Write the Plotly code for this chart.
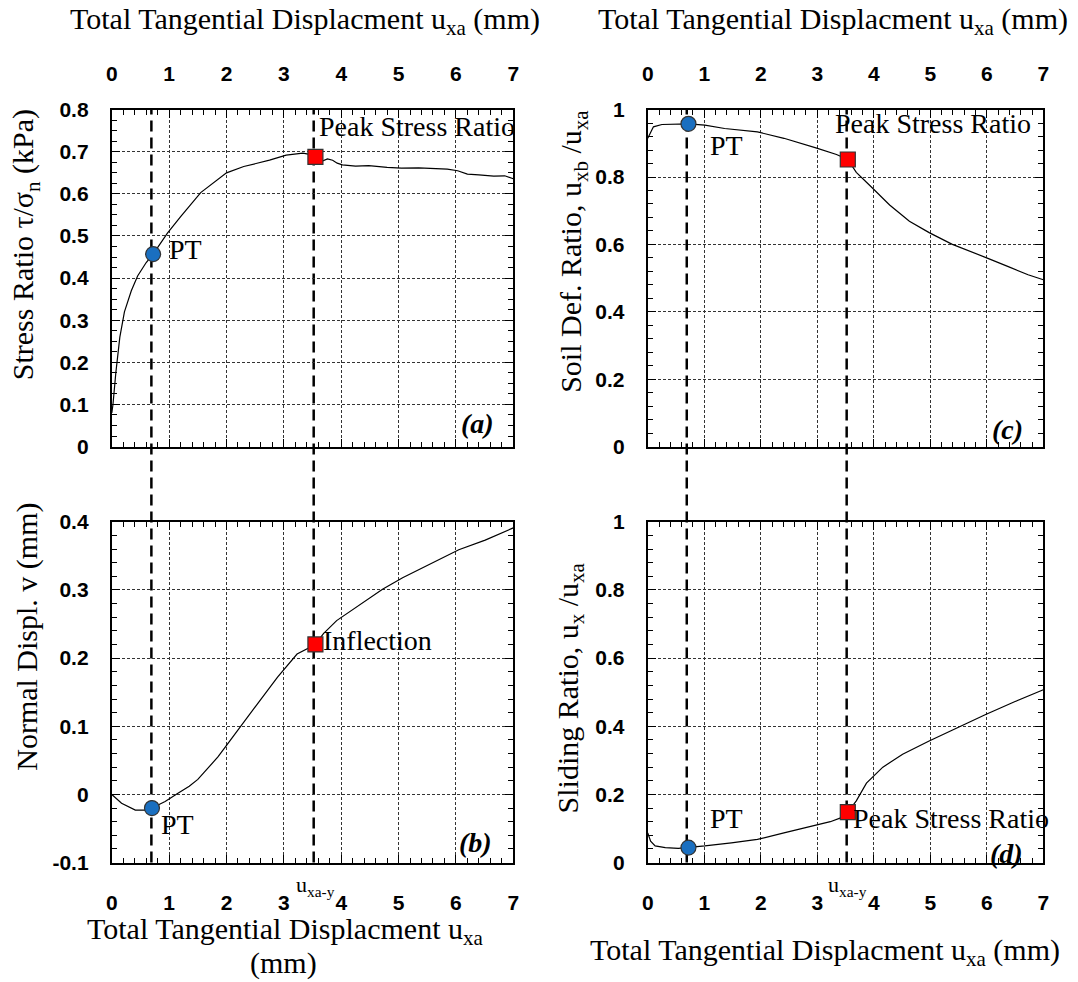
import plotly.graph_objects as go

# ---------------- data ----------------
# (a) stress ratio tau/sigma_n vs total tangential displacement
ux_a = [0.0, 0.02, 0.07, 0.14, 0.22, 0.34, 0.45, 0.60, 0.72, 0.97, 1.20, 1.55, 2.00, 2.30,
        2.75, 3.04, 3.33, 3.45, 3.55, 3.62, 3.67, 3.76, 3.85, 3.93, 4.02, 4.25, 4.48, 4.80,
        5.05, 5.35, 5.63, 5.85, 6.03, 6.20, 6.40, 6.66, 6.85, 7.0]
stress_ratio = [0.08, 0.10, 0.175, 0.26, 0.32, 0.37, 0.405, 0.437, 0.457, 0.507, 0.546, 0.603,
                0.650, 0.665, 0.680, 0.692, 0.697, 0.694, 0.688, 0.681, 0.678, 0.683, 0.680,
                0.673, 0.669, 0.666, 0.667, 0.663, 0.661, 0.662, 0.661, 0.659, 0.655, 0.647,
                0.645, 0.642, 0.643, 0.636]

# (b) normal displacement v
ux_b = [0.0, 0.17, 0.41, 0.59, 0.70, 0.93, 1.16, 1.35, 1.50, 1.70, 1.85, 2.00, 2.20, 2.54,
        2.89, 3.23, 3.55, 3.69, 3.92, 4.26, 4.72, 5.07, 5.64, 6.05, 6.51, 7.0]
normal_displ = [0.0, -0.013, -0.023, -0.023, -0.020, -0.0105, 0.002, 0.012, 0.022, 0.040,
                0.055, 0.072, 0.094, 0.133, 0.172, 0.206, 0.220, 0.236, 0.255, 0.275, 0.301,
                0.318, 0.342, 0.359, 0.373, 0.391]

# (c) soil deformation ratio u_xb/u_xa
ux_c = [0.0, 0.05, 0.10, 0.25, 0.48, 0.72, 1.01, 1.36, 1.94, 2.41, 2.99, 3.34, 3.54, 3.69,
        3.93, 4.28, 4.63, 4.98, 5.38, 5.68, 6.03, 6.38, 6.73, 7.0]
soil_def_ratio = [0.915, 0.934, 0.949, 0.956, 0.957, 0.958, 0.954, 0.944, 0.934, 0.915, 0.886,
                  0.867, 0.852, 0.814, 0.775, 0.717, 0.669, 0.635, 0.601, 0.582, 0.558, 0.534,
                  0.510, 0.495]

# (d) sliding ratio u_x/u_xa
ux_d = [0.0, 0.05, 0.13, 0.31, 0.54, 0.72, 1.01, 1.48, 1.94, 2.41, 2.88, 3.23, 3.46, 3.54,
        3.69, 3.87, 4.16, 4.51, 4.97, 5.50, 5.97, 6.49, 7.0]
sliding_ratio = [0.087, 0.063, 0.049, 0.044, 0.042, 0.044, 0.049, 0.058, 0.068, 0.087, 0.106,
                 0.120, 0.134, 0.148, 0.181, 0.233, 0.280, 0.318, 0.356, 0.398, 0.434, 0.472,
                 0.507]

# characteristic points (x, y)
pt_a, peak_a = (0.72, 0.457), (3.55, 0.688)
pt_b, infl_b = (0.70, -0.020), (3.55, 0.220)
pt_c, peak_c = (0.72, 0.958), (3.54, 0.852)
pt_d, peak_d = (0.72, 0.044), (3.54, 0.148)
x_pt_line, x_peak_line = 0.69, 3.52

x_ticks = [0, 1, 2, 3, 4, 5, 6, 7]

# ---------------- styling ----------------
SERIF = "Liberation Serif, Times New Roman, serif"
SANS = "Liberation Sans, Arial, sans-serif"
TICKFONT = dict(family=SANS, size=21, color="black", weight="bold")
W, H = 1078, 982

dom_x_left = [107 / W, 513 / W]
dom_x_right = [649 / W, 1049 / W]
dom_y_top = [1 - 445 / H, 1 - 100 / H]
dom_y_bot = [1 - 871 / H, 1 - 522 / H]

fig = go.Figure()

def curve(x, y, xa, ya):
    fig.add_trace(go.Scatter(x=x, y=y, mode="lines", xaxis=xa, yaxis=ya,
                             line=dict(color="black", width=1.2), showlegend=False,
                             hoverinfo="skip"))

def point(p, symbol, color, xa, ya):
    fig.add_trace(go.Scatter(x=[p[0]], y=[p[1]], mode="markers", xaxis=xa, yaxis=ya,
                             marker=dict(symbol=symbol, size=15, color=color,
                                         line=dict(color="#333333", width=1.2)),
                             showlegend=False, cliponaxis=False))

curve(ux_a, stress_ratio, "x", "y")
curve(ux_b, normal_displ, "x3", "y3")
curve(ux_c, soil_def_ratio, "x2", "y2")
curve(ux_d, sliding_ratio, "x4", "y4")

point(pt_a, "circle", "#1a6fc0", "x", "y")
point(peak_a, "square", "#ff0000", "x", "y")
point(pt_b, "circle", "#1a6fc0", "x3", "y3")
point(infl_b, "square", "#ff0000", "x3", "y3")
point(pt_c, "circle", "#1a6fc0", "x2", "y2")
point(peak_c, "square", "#ff0000", "x2", "y2")
point(pt_d, "circle", "#1a6fc0", "x4", "y4")
point(peak_d, "square", "#ff0000", "x4", "y4")

def xaxis(domain, anchor, side, standoff):
    return dict(domain=domain, anchor=anchor, range=[0, 7], side=side,
                tickvals=x_ticks, tickfont=TICKFONT,
                showline=True, linecolor="black", linewidth=2, mirror="allticks",
                ticks="inside", ticklen=8, tickwidth=1.2, tickcolor="black",
                showgrid=True, gridcolor="#333333", gridwidth=1, griddash="3px,2px",
                minor=dict(dtick=0.2, ticks="inside", ticklen=5, tickwidth=1,
                           tickcolor="black", showgrid=False),
                zeroline=False, ticklabelstandoff=standoff)

def yaxis(domain, anchor, rng, dtick, minor, tickvals=None, ticktext=None):
    d = dict(domain=domain, anchor=anchor, range=rng, dtick=dtick, tick0=0,
             tickfont=TICKFONT,
             showline=True, linecolor="black", linewidth=2, mirror="allticks",
             ticks="inside", ticklen=8, tickwidth=1.2, tickcolor="black",
             showgrid=True, gridcolor="#333333", gridwidth=1, griddash="3px,2px",
             minor=dict(dtick=minor, tick0=0, ticks="inside", ticklen=5, tickwidth=1,
                        tickcolor="black", showgrid=False),
             zeroline=False, ticklabelstandoff=17)
    if tickvals is not None:
        d.update(tickmode="array", tickvals=tickvals, ticktext=ticktext)
    return d

fig.update_layout(
    width=W, height=H,
    margin=dict(l=0, r=0, t=0, b=0),
    paper_bgcolor="white", plot_bgcolor="rgba(0,0,0,0)",
    showlegend=False,
    xaxis=xaxis(dom_x_left, "y", "top", 18),
    yaxis=yaxis(dom_y_top, "x", [0, 0.8], 0.1, 0.025),
    xaxis2=xaxis(dom_x_right, "y2", "top", 18),
    yaxis2=yaxis(dom_y_top, "x2", [0, 1], 0.2, 0.04),
    xaxis3=xaxis(dom_x_left, "y3", "bottom", 20),
    yaxis3=yaxis(dom_y_bot, "x3", [-0.1, 0.4], 0.1, 0.02,
                 tickvals=[-0.1, 0, 0.1, 0.2, 0.3, 0.4],
                 ticktext=["-0.1", "0", "0.1", "0.2", "0.3", "0.4"]),
    xaxis4=xaxis(dom_x_right, "y4", "bottom", 20),
    yaxis4=yaxis(dom_y_bot, "x4", [0, 1], 0.2, 0.04),
)

# vertical dashed guide lines running through both rows
for xref, xv in [("x", x_pt_line), ("x", x_peak_line),
                 ("x2", x_pt_line), ("x2", x_peak_line)]:
    fig.add_shape(type="line", xref=xref, yref="paper", x0=xv, x1=xv,
                  y0=dom_y_bot[0], y1=dom_y_top[1], layer="below",
                  line=dict(color="black", width=2.5, dash="11px,6px"))

LBL = dict(family=SERIF, size=28, color="black")
TAG = dict(family=SERIF, size=28, color="black")

def note(text, x, y, xref, yref, xanchor="left", yanchor="middle", font=LBL, angle=0):
    fig.add_annotation(text=text, x=x, y=y, xref=xref, yref=yref, xanchor=xanchor,
                       yanchor=yanchor, showarrow=False, font=font, textangle=angle)

# point labels
note("PT", 0.97, 0.469, "x", "y")
note("Peak Stress Ratio", 3.57, 0.76, "x", "y")
note("PT", 0.82, -0.044, "x3", "y3")
note("Inflection", 3.64, 0.226, "x3", "y3")
note("PT", 1.06, 0.893, "x2", "y2")
note("Peak Stress Ratio", 3.27, 0.958, "x2", "y2")
note("PT", 1.06, 0.128, "x4", "y4")
note("Peak Stress Ratio", 3.6, 0.13, "x4", "y4")

# panel tags
note("<b><i>(a)</i></b>", 6.7, 0.055, "x", "y", xanchor="right", font=TAG)
note("<b><i>(b)</i></b>", 6.66, -0.07, "x3", "y3", xanchor="right", font=TAG)
note("<b><i>(c)</i></b>", 6.68, 0.05, "x2", "y2", xanchor="right", font=TAG)
note("<b><i>(d)</i></b>", 6.68, 0.028, "x4", "y4", xanchor="right", font=TAG)

# u_xa-y markers under the bottom axes
SUBF = dict(family=SERIF, size=22, color="black")
note("u<sub>xa-y</sub>", 3.55, 1 - 895 / H, "x3", "paper", xanchor="center", font=SUBF)
note("u<sub>xa-y</sub>", 3.54, 1 - 895 / H, "x4", "paper", xanchor="center", font=SUBF)

# axis titles
TTL = dict(family=SERIF, size=30, color="black")
top_title = "Total Tangential Displacment u<sub>xa</sub> (mm)"
note(top_title, 302 / W, 1 - 9 / H, "paper", "paper", xanchor="center", font=TTL)
note(top_title, 836 / W, 1 - 9 / H, "paper", "paper", xanchor="center", font=TTL)
note("Total Tangential Displacment u<sub>xa</sub>", 282 / W, 1 - 941 / H, "paper", "paper",
     xanchor="center", font=TTL)
note("(mm)", 281 / W, 1 - 974 / H, "paper", "paper", xanchor="center", font=TTL)
note(top_title, 828 / W, 1 - 963 / H, "paper", "paper", xanchor="center", font=TTL)

note("Stress Ratio τ/σ<sub>n</sub> (kPa)", 20 / W, 1 - 238 / H, "paper", "paper",
     xanchor="center", font=TTL, angle=-90)
note("Normal Displ. v (mm)", 21 / W, 1 - 640 / H, "paper", "paper",
     xanchor="center", font=TTL, angle=-90)
note("Soil Def. Ratio, u<sub>xb</sub> /u<sub>xa</sub>", 574 / W, 1 - 245 / H, "paper", "paper",
     xanchor="center", font=TTL, angle=-90)
note("Sliding Ratio, u<sub>x</sub> /u<sub>xa</sub>", 570 / W, 1 - 692 / H, "paper", "paper",
     xanchor="center", font=TTL, angle=-90)

fig.write_html("out.html")
